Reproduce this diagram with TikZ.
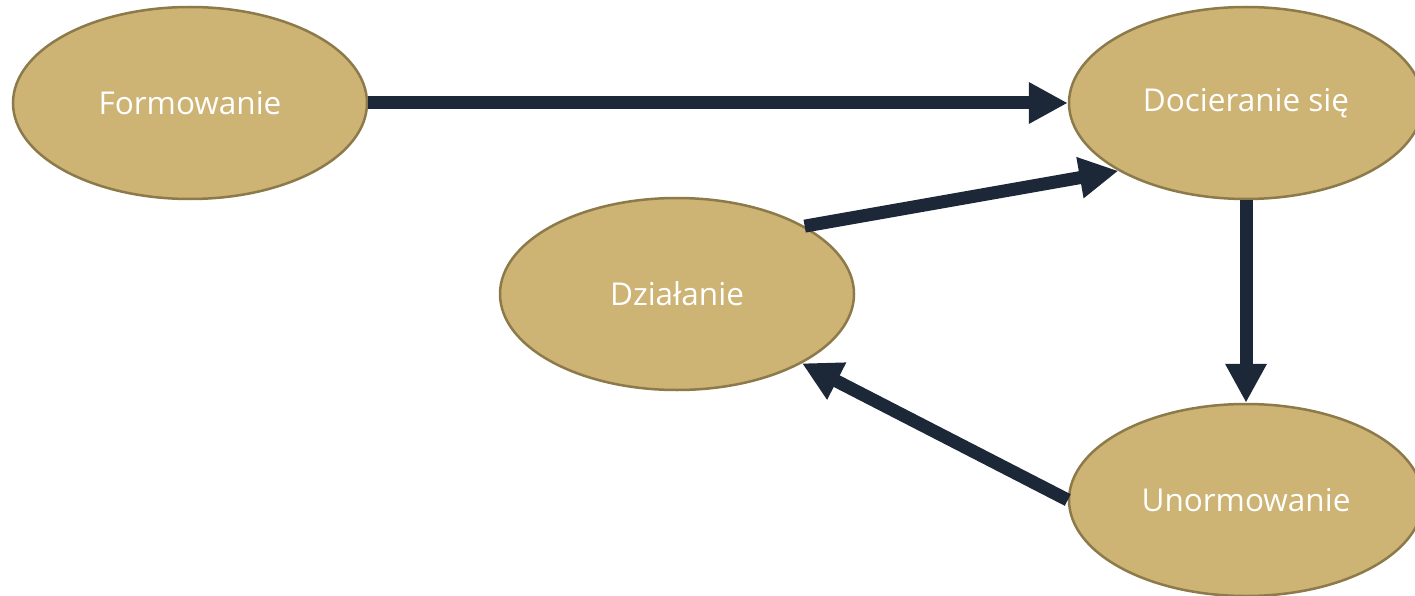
\documentclass[tikz,border=0pt]{standalone}
\usepackage{fontspec}
\setmainfont{Open Sans}
\usetikzlibrary{shapes.geometric,arrows.meta}
\definecolor{gold}{HTML}{CDB374}
\definecolor{goldedge}{HTML}{8C7A4A}
\definecolor{navy}{HTML}{1C2838}
\tikzset{
  phase/.style={ellipse, draw=goldedge, line width=2.5pt, fill=gold,
    minimum width=354pt, minimum height=192pt, inner sep=0pt,
    text=white, font=\fontsize{31.5}{38}\selectfont},
  flow/.style={draw=navy, line width=13pt,
    -{Triangle[length=39pt,width=39pt]}}
}
\begin{document}
\begin{tikzpicture}[x=1pt,y=-1pt]
\useasboundingbox (0,0) rectangle (1415,596);
\begin{scope}
\clip (0,0) rectangle (1415,596);
\node[phase] (f) at (190,103) {Formowanie};
\node[phase] (d) at (1246,103) {Docieranie się};
\node[phase] (z) at (677,294) {Działanie};
\node[phase] (u) at (1246,500) {Unormowanie};
\draw[flow] (f.east) -- (d.west);
\draw[flow] (z.28) -- (d.208);
\draw[flow] (d.south) -- (u.north);
\draw[flow] (u.west) -- (z.331);
\end{scope}
\end{tikzpicture}
\end{document}
